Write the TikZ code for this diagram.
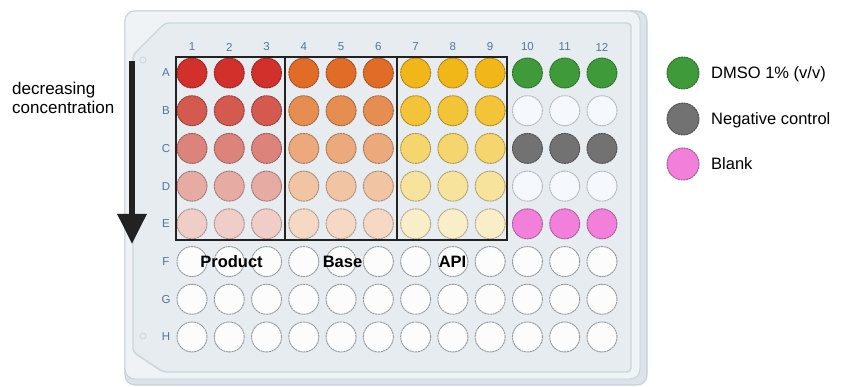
\documentclass[tikz,border=0pt]{standalone}
\usepackage{fontspec}
\setmainfont{Liberation Sans}
\usetikzlibrary{arrows.meta}
\definecolor{plateside}{HTML}{DCE4EA}
\definecolor{plateout}{HTML}{EFF3F6}
\definecolor{plateedge}{HTML}{C4D0D8}
\definecolor{platein}{HTML}{E6ECF0}
\definecolor{plateinedge}{HTML}{CAD5DC}
\definecolor{labc}{HTML}{52769A}
\definecolor{arrowc}{HTML}{222222}
\definecolor{p1}{HTML}{D2302B}
\definecolor{p2}{HTML}{D45A4F}
\definecolor{p3}{HTML}{DC847B}
\definecolor{p4}{HTML}{E6ABA2}
\definecolor{p5}{HTML}{F1CDC8}
\definecolor{b1}{HTML}{E06C27}
\definecolor{b2}{HTML}{E68E52}
\definecolor{b3}{HTML}{EBA97C}
\definecolor{b4}{HTML}{F1C4A3}
\definecolor{b5}{HTML}{F6D9C4}
\definecolor{a1}{HTML}{F1B719}
\definecolor{a2}{HTML}{F3C437}
\definecolor{a3}{HTML}{F5D56D}
\definecolor{a4}{HTML}{F8E39D}
\definecolor{a5}{HTML}{FAEEC8}
\definecolor{k1}{HTML}{3F9B3A}
\definecolor{k2}{HTML}{F5F8FC}
\definecolor{k3}{HTML}{727272}
\definecolor{k4}{HTML}{F5F8FC}
\definecolor{k5}{HTML}{F27FD9}
\definecolor{emptyw}{HTML}{FCFCFC}
\definecolor{emptyedge}{HTML}{8F989F}
\begin{document}
\begin{tikzpicture}[x=1pt,y=-1pt,
  well/.style={circle, minimum size=30pt, inner sep=0pt, line width=0.9pt, dash pattern=on 2.2pt off 0.6pt},
  legdot/.style={circle, minimum size=32pt, inner sep=0pt, line width=0.9pt, dash pattern=on 2.2pt off 0.6pt},
  collab/.style={text=labc, inner sep=0pt, font=\fontsize{11.5}{13}\selectfont},
  grouplab/.style={inner sep=0pt, font=\bfseries\fontsize{16.5}{19}\selectfont},
  legtext/.style={anchor=base west, inner sep=0pt, font=\fontsize{16.5}{19}\selectfont},
  sidetext/.style={anchor=base west, inner sep=0pt, font=\fontsize{17}{20}\selectfont},
  groupbox/.style={draw=arrowc, line width=1.5pt}]
\useasboundingbox (0,0) rectangle (842,387);
\fill[white] (0,0) rectangle (842,387);
% plate
\draw[fill=plateside, draw=plateedge, line width=1.1pt, rounded corners=10pt] (125,11) rectangle (647,385);
\draw[fill=plateout, draw=plateedge, line width=0.9pt, rounded corners=10pt] (125,11) rectangle (640,379);
\draw[fill=platein, draw=plateinedge, line width=1.4pt, rounded corners=4pt]
  (165,23) -- (631,23) -- (631,372) -- (163,372) -- (133,352) -- (133,55) -- cycle;
\draw[plateinedge, line width=0.8pt] (143,60) circle (3);
\draw[plateinedge, line width=0.8pt] (143,336) circle (3);
% wells
\foreach \ri in {1,...,8}{
  \foreach \c in {1,...,12}{
    \ifnum\ri>5
      \def\wcol{emptyw}\def\wdraw{emptyedge}%
    \else
      \ifnum\c<4 \def\wcol{p\ri}\else\ifnum\c<7 \def\wcol{b\ri}\else\ifnum\c<10 \def\wcol{a\ri}\else\def\wcol{k\ri}\fi\fi\fi
      \def\wdraw{\wcol!70!black}%
      \ifnum\c>9 \ifodd\ri\else\def\wdraw{emptyedge!70!white}\fi\fi
    \fi
    \node[well, fill=\wcol, draw=\wdraw] (w\ri-\c) at ({192+(\c-1)*37.27},{73+(\ri-1)*37.71}) {};
  }
}
% column and row labels
\foreach \c in {1,...,12}{
  \node[collab] (col\c) at ({192+(\c-1)*37.27},47) {\c};
}
\foreach \r [count=\ri] in {A,B,C,D,E,F,G,H}{
  \node[collab] (row\ri) at (166,{73+(\ri-1)*37.71}) {\r};
}
% group boxes
\draw[groupbox] (176,57) rectangle (285.2,240);
\draw[groupbox] (285.2,57) rectangle (397,240);
\draw[groupbox] (397,57) rectangle (507,240);
\node[grouplab] (lprod) at (231.5,262) {Product};
\node[grouplab] (lbase) at (342.5,262) {Base};
\node[grouplab] (lapi) at (452.5,262) {API};
% arrow
\coordinate (arrtop) at (132,61);
\coordinate (arrbot) at (132,244);
\draw[arrowc, line width=6pt, -{Triangle[width=28pt,length=30pt]}] (arrtop) -- (arrbot);
\node[sidetext] (t1) at (12,95) {decreasing};
\node[sidetext] (t2) at (12,114) {concentration};
% legend
\node[legdot, fill=k1, draw=k1!70!black] (lg1) at (683,73) {};
\node[legdot, fill=k3, draw=k3!70!black] (lg2) at (683,119) {};
\node[legdot, fill=k5, draw=k5!70!black] (lg3) at (683,164) {};
\node[legtext] (lt1) at (711,79) {DMSO 1\% (v/v)};
\node[legtext] (lt2) at (711,125) {Negative control};
\node[legtext] (lt3) at (711,170) {Blank};
\end{tikzpicture}
\end{document}
